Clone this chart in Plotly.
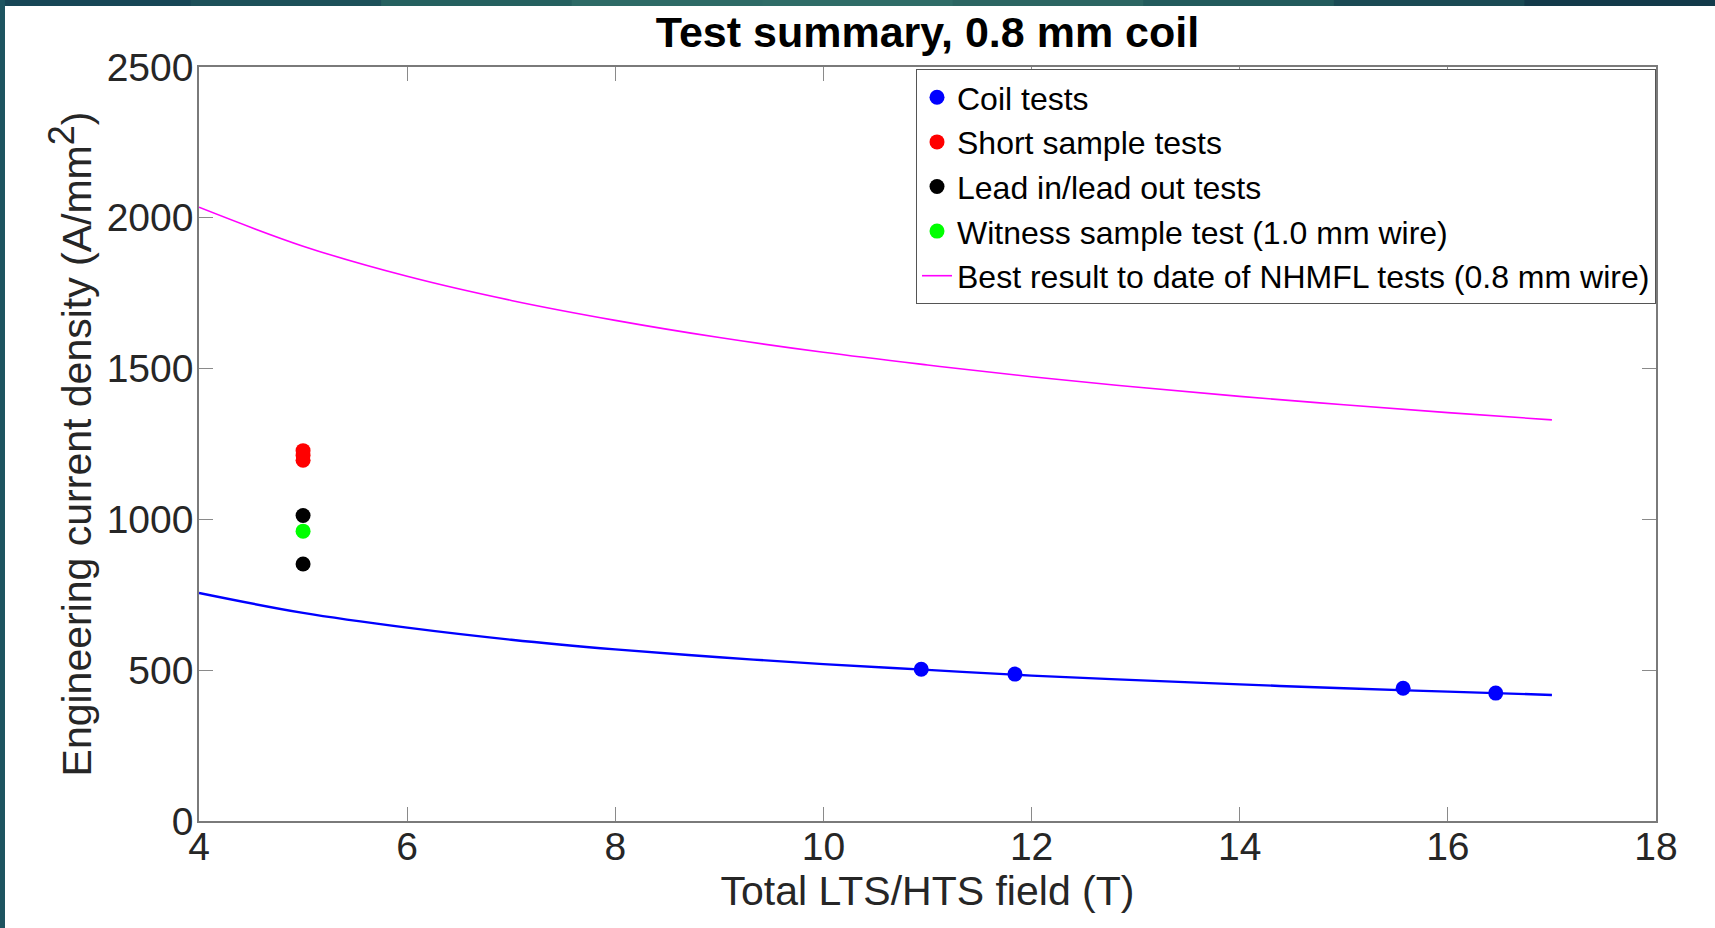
import plotly.graph_objects as go

# ---- data ----
coil_field = [10.94, 11.84, 15.57, 16.46]
coil_jc = [503, 487, 440, 424]

short_field = [5.0, 5.0, 5.0]
short_jc = [1228, 1212, 1196]

lead_field = [5.0, 5.0]
lead_jc = [1013, 852]

witness_field = [5.0]
witness_jc = [961]

fit_field = [4, 5, 6, 7, 8, 9, 10, 11, 12, 13, 14, 15, 16, 17]
coil_fit_jc = [756, 690, 641, 601, 569, 543, 520, 501, 482, 467, 453, 440, 429, 418]
nhmfl_jc = [2035, 1906, 1806, 1726, 1660, 1603, 1554, 1512, 1473, 1439, 1408, 1380, 1354, 1330]

x_ticks = [4, 6, 8, 10, 12, 14, 16, 18]
y_ticks = [0, 500, 1000, 1500, 2000, 2500]

FONT = "Liberation Sans"
W, H = 1715, 928
L, R, T, B = 199, 59, 67, 107
PW, PH = W - L - R, H - T - B

fig = go.Figure()

fig.add_trace(go.Scatter(x=fit_field, y=coil_fit_jc, mode="lines", line=dict(color="#0000ff", width=2.4),
                         line_shape="spline", showlegend=False, hoverinfo="skip"))
fig.add_trace(go.Scatter(x=coil_field, y=coil_jc, mode="markers", name="Coil tests",
                         marker=dict(color="#0000ff", size=15)))
fig.add_trace(go.Scatter(x=short_field, y=short_jc, mode="markers", name="Short sample tests",
                         marker=dict(color="#ff0000", size=15)))
fig.add_trace(go.Scatter(x=lead_field, y=lead_jc, mode="markers", name="Lead in/lead out tests",
                         marker=dict(color="#000000", size=15)))
fig.add_trace(go.Scatter(x=witness_field, y=witness_jc, mode="markers", name="Witness sample test (1.0 mm wire)",
                         marker=dict(color="#00ff00", size=15)))
fig.add_trace(go.Scatter(x=fit_field, y=nhmfl_jc, mode="lines", name="Best result to date of NHMFL tests (0.8 mm wire)",
                         line=dict(color="#ff00ff", width=1.6), line_shape="spline"))

# decorative slide border (dark teal strips at top and left)
shapes = []
top_cols = ["#174656", "#1d5059", "#25605f", "#2d6a66", "#2f6c67", "#2b6562", "#225a5c", "#1a4a54", "#133a4a"]
n = len(top_cols)
for i, c in enumerate(top_cols):
    x0 = -L / PW + (W / PW) * i / n
    x1 = -L / PW + (W / PW) * (i + 1) / n
    shapes.append(dict(type="rect", xref="paper", yref="paper", x0=x0, x1=x1 + 0.002,
                       y0=(PH + T - 6) / PH, y1=(PH + T) / PH, fillcolor=c, line_width=0, layer="below"))
shapes.append(dict(type="rect", xref="paper", yref="paper", x0=-L / PW, x1=(-L + 5) / PW,
                   y0=-B / PH, y1=(PH + T) / PH, fillcolor="#1d5460", line_width=0, layer="below"))

axis_common = dict(showgrid=False, zeroline=False, showline=True, linecolor="#7a7a7a", linewidth=1.5,
                   mirror="ticks", ticks="inside", ticklen=14, tickcolor="#8a8a8a", tickwidth=1,
                   tickfont=dict(family=FONT, size=39, color="#262626"))

fig.update_layout(
    width=W, height=H,
    margin=dict(l=L, r=R, t=T, b=B),
    paper_bgcolor="white", plot_bgcolor="white",
    font=dict(family=FONT, color="#262626"),
    title=dict(text="<b>Test summary, 0.8 mm coil</b>", x=0.5, xref="paper", xanchor="center",
               y=1 - 32 / H, yref="container", yanchor="middle",
               font=dict(family=FONT, size=43, color="black")),
    xaxis=dict(range=[4, 18], tickvals=x_ticks, ticktext=[str(v) for v in x_ticks], ticklabelstandoff=-10,
               title=dict(text="Total LTS/HTS field (T)", font=dict(family=FONT, size=41, color="#262626"), standoff=4),
               **axis_common),
    yaxis=dict(range=[0, 2500], tickvals=y_ticks, ticktext=[str(v) for v in y_ticks], ticklabelstandoff=-4,
               title=dict(text="Engineering current density (A/mm<sup><span style='font-size:36px'>2</span></sup>)",
                          font=dict(family=FONT, size=41, color="#262626"), standoff=2),
               **axis_common),
    legend=dict(x=1, xanchor="right", y=1 - 2 / PH, yanchor="top", bgcolor="white",
                bordercolor="#555555", borderwidth=1, font=dict(family=FONT, size=32, color="black"),
                itemwidth=30, tracegroupgap=0),
    shapes=shapes,
)

fig.write_html("out.html", config={"displayModeBar": False},
               post_script="document.body.style.margin='0px';document.body.style.overflow='hidden';")
